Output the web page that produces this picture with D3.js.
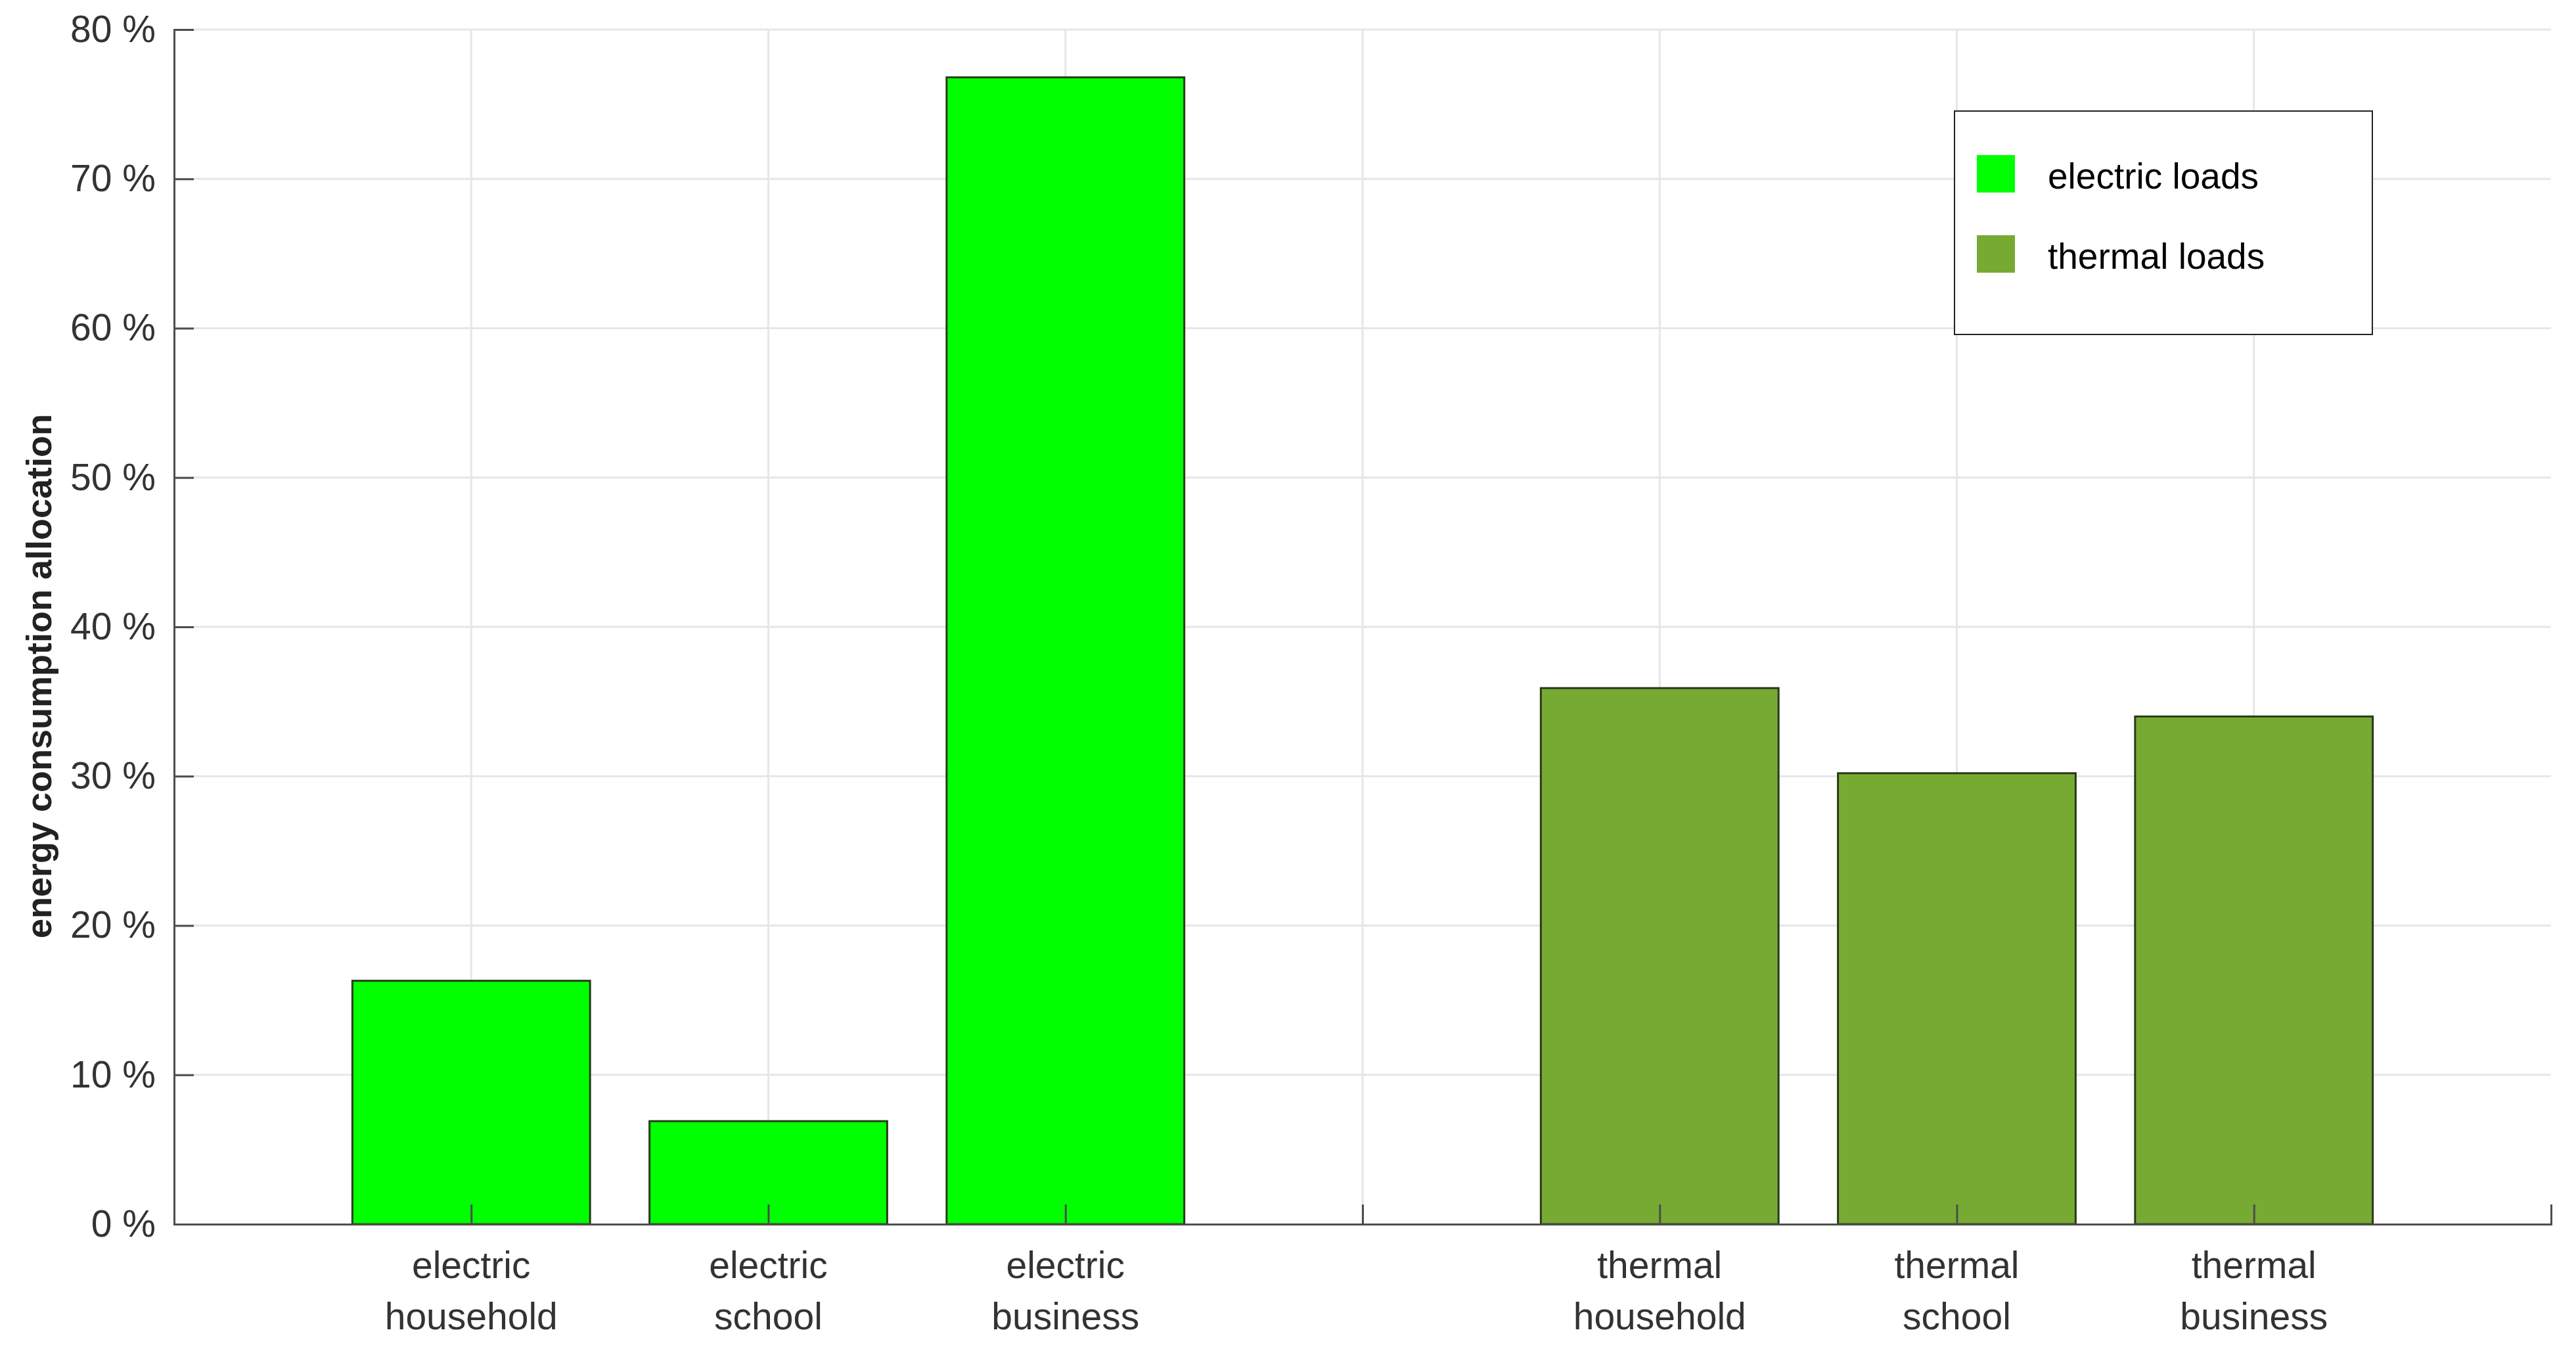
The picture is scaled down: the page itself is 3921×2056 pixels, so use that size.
<!DOCTYPE html>
<html>
<head>
<meta charset="utf-8">
<script src="https://cdn.jsdelivr.net/npm/d3@7"></script>
<style>
  body { margin: 0; background: #fff; }
  text { font-family: "Liberation Sans", Arial, sans-serif; }
</style>
</head>
<body>
<script>
// data
var categories = [
  ['electric', 'household'], ['electric', 'school'], ['electric', 'business'],
  ['thermal', 'household'], ['thermal', 'school'], ['thermal', 'business']
];
var positions = [1, 2, 3, 5, 6, 7];
var shares = [16.3, 6.9, 76.8, 35.9, 30.2, 34.0];
var groups = ['electric', 'electric', 'electric', 'thermal', 'thermal', 'thermal'];
var yTicks = [0, 10, 20, 30, 40, 50, 60, 70, 80];
var legendLabels = ['electric loads', 'thermal loads'];

var W = 3921, H = 2056;
var padL = 265, padR = 3883, padT = 45, padB = 1863;
var colour = { electric: '#00ff00', thermal: '#77aa33' };

var svg = d3.select('body').append('svg').attr('width', W).attr('height', H);

var x = d3.scaleLinear().domain([0, 8]).range([padL, padR]);
var y = d3.scaleLinear().domain([0, 80]).range([padB, padT]);

// grid
svg.append('g').selectAll('line').data(yTicks.slice(1)).enter().append('line')
  .attr('x1', padL).attr('x2', padR)
  .attr('y1', d => y(d)).attr('y2', d => y(d))
  .attr('stroke', '#e6e6e6').attr('stroke-width', 3);
svg.append('g').selectAll('line').data([1, 2, 3, 4, 5, 6, 7]).enter().append('line')
  .attr('x1', d => x(d)).attr('x2', d => x(d))
  .attr('y1', padT).attr('y2', padB)
  .attr('stroke', '#e6e6e6').attr('stroke-width', 3);

// bars
svg.append('g').selectAll('rect').data(shares).enter().append('rect')
  .attr('x', (d, i) => x(positions[i] - 0.4))
  .attr('width', x(0.8) - x(0))
  .attr('y', d => y(d))
  .attr('height', d => padB - y(d))
  .attr('fill', (d, i) => colour[groups[i]])
  .attr('stroke', '#2a3a1a').attr('stroke-width', 3);

// y axis
var yAxis = svg.append('g').attr('transform', 'translate(' + padL + ',0)')
  .call(d3.axisRight(y).tickValues(yTicks).tickSize(30).tickFormat(d => d + ' %'));
yAxis.select('.domain').attr('stroke', '#4d4d4d').attr('stroke-width', 3);
yAxis.selectAll('.tick line').attr('stroke', '#4d4d4d').attr('stroke-width', 3);
yAxis.selectAll('.tick text')
  .attr('x', -28).attr('text-anchor', 'end')
  .attr('font-size', 57).attr('fill', '#333');

// x axis
var xAxis = svg.append('g').attr('transform', 'translate(0,' + padB + ')')
  .call(d3.axisTop(x).tickValues([1, 2, 3, 4, 5, 6, 7]).tickSize(30).tickFormat(''));
xAxis.select('.domain').attr('stroke', '#4d4d4d').attr('stroke-width', 3);
xAxis.selectAll('.tick line').attr('stroke', '#4d4d4d').attr('stroke-width', 3);

var labels = svg.append('g').selectAll('text').data(categories).enter().append('text')
  .attr('text-anchor', 'middle')
  .attr('font-size', 57).attr('fill', '#333');
labels.append('tspan').attr('x', (d, i) => x(positions[i])).attr('y', 1945).text(d => d[0]);
labels.append('tspan').attr('x', (d, i) => x(positions[i])).attr('y', 2023).text(d => d[1]);

// y title
svg.append('text')
  .attr('transform', 'translate(78,' + ((padT + padB) / 2 + 75) + ') rotate(-90)')
  .attr('text-anchor', 'middle')
  .attr('font-size', 54).attr('font-weight', 'bold').attr('fill', '#222')
  .text('energy consumption allocation');

// legend
var lg = svg.append('g');
lg.append('rect').attr('x', 2975).attr('y', 169).attr('width', 636).attr('height', 340)
  .attr('fill', '#fff').attr('stroke', '#222').attr('stroke-width', 2);
var item = lg.selectAll('g').data(legendLabels).enter().append('g')
  .attr('transform', (d, i) => 'translate(0,' + (i * 122) + ')');
item.append('rect').attr('x', 3009).attr('y', 236).attr('width', 58).attr('height', 57)
  .attr('fill', (d, i) => colour[['electric', 'thermal'][i]]);
item.append('text').attr('x', 3117).attr('y', 287)
  .attr('font-size', 55).attr('fill', '#000').text(d => d);
</script>
</body>
</html>
